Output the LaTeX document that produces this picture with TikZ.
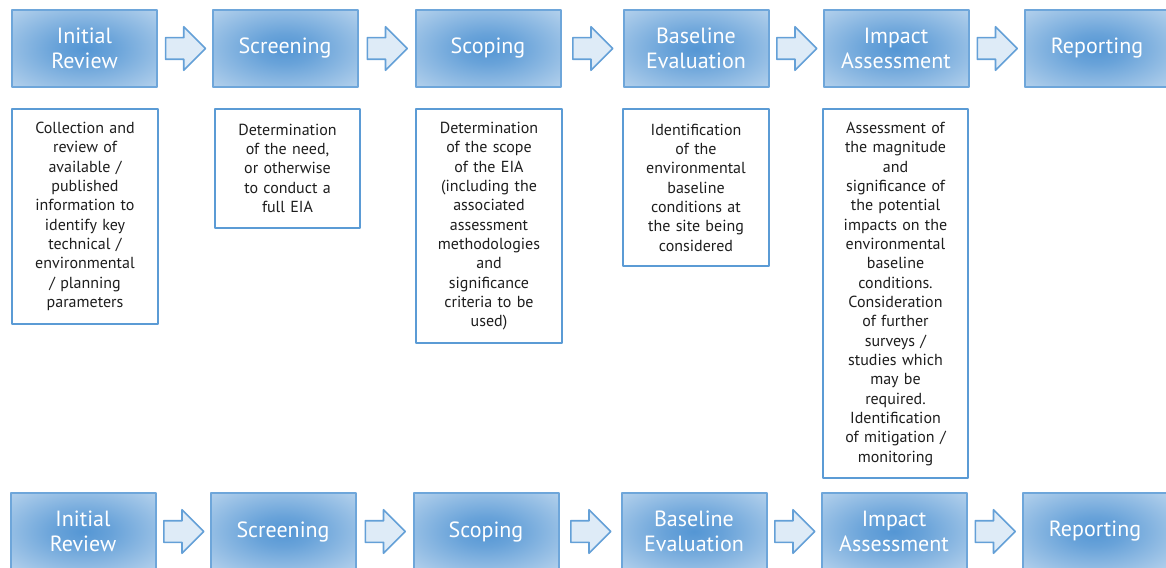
\documentclass[tikz,border=0pt]{standalone}
\usepackage{fontspec}
\setmainfont{PT Sans}
\usetikzlibrary{shapes.arrows,calc}
\definecolor{hdrin}{RGB}{84,150,212}
\definecolor{hdrout}{RGB}{222,235,247}
\definecolor{hdrline}{RGB}{110,166,218}
\definecolor{arrfill}{RGB}{222,235,247}
\definecolor{arrline}{RGB}{100,160,215}
\definecolor{boxline}{RGB}{91,155,213}
\definecolor{txt}{RGB}{30,30,30}
\pgfdeclareradialshading{hdrshade}{\pgfpoint{0bp}{0bp}}{color(0bp)=(hdrin); color(10bp)=(hdrin!85!hdrout); color(50bp)=(hdrout); color(72bp)=(hdrout)}
\begin{document}
\begin{tikzpicture}[x=0.75pt, y=-0.75pt, line join=round,
	hdr/.style={rectangle, draw=hdrline, line width=1.5pt, shading=hdrshade, minimum width=108.75pt, minimum height=57.75pt, inner sep=0pt, align=center, text=white, font=\fontsize{16.5}{18.75}\selectfont},
	desc/.style={rectangle, draw=boxline, line width=1.5pt, fill=white, text width=100pt, inner xsep=4.4pt, inner ysep=0pt, align=center, anchor=north, text=txt, font=\fontsize{12}{14.5}\selectfont},
	blockarrow/.style={single arrow, draw=arrline, fill=arrfill, line width=1.2pt, text height=7.5pt, text depth=7.5pt, inner sep=0pt, minimum height=30pt, single arrow head extend=8.25pt, single arrow head indent=0pt, anchor=west}]
	\useasboundingbox (0,0) rectangle (1166,567);
	% steps, top row
	\foreach \i/\x/\lbl in {1/84.5/{Initial\\Review},2/285/Screening,3/488/Scoping,4/696/{Baseline\\Evaluation},5/896/{Impact\\Assessment},6/1097/Reporting}{
		\node[hdr] (t\i) at (\x,48.5) {\lbl};
	}
	% steps, bottom row
	\foreach \i/\x/\lbl in {1/83/{Initial\\Review},2/283/Screening,3/486/Scoping,4/694/{Baseline\\Evaluation},5/894/{Impact\\Assessment},6/1095/Reporting}{
		\node[hdr] (b\i) at (\x,531.5) {\lbl};
	}
	\foreach \i/\j in {1/2,2/3,3/4,4/5,5/6}{
		\node[blockarrow] (ta\i) at ($(t\i.east)!0.5!(t\j.west)+(-20,0)$) {};
		\node[blockarrow] (ba\i) at ($(b\i.east)!0.5!(b\j.west)+(-20,0)$) {};
	}
	% what each step covers
	\foreach \i/\x/\n/\lbl in {
		1/85/10/{Collection and\\review of\\available /\\published\\information to\\identify key\\technical /\\environmental\\/ planning\\parameters},
		2/287.5/5/{Determination\\of the need,\\or otherwise\\to conduct a\\full EIA},
		3/489/11/{Determination\\of the scope\\of the EIA\\(including the\\associated\\assessment\\methodologies\\and\\significance\\criteria to be\\used)},
		4/696/7/{Identification\\of the\\environmental\\baseline\\conditions at\\the site being\\considered},
		5/895.5/18/{Assessment of\\the magnitude\\and\\significance of\\the potential\\impacts on the\\environmental\\baseline\\conditions.\\Consideration\\of further\\surveys /\\studies which\\may be\\required.\\Identification\\of mitigation /\\monitoring}}{
		\pgfmathsetmacro{\hgt}{\n*14.475+16.5}
		\node[desc, minimum height=\hgt pt] (d\i) at (\x,108) {\lbl};
	}
\end{tikzpicture}
\end{document}
